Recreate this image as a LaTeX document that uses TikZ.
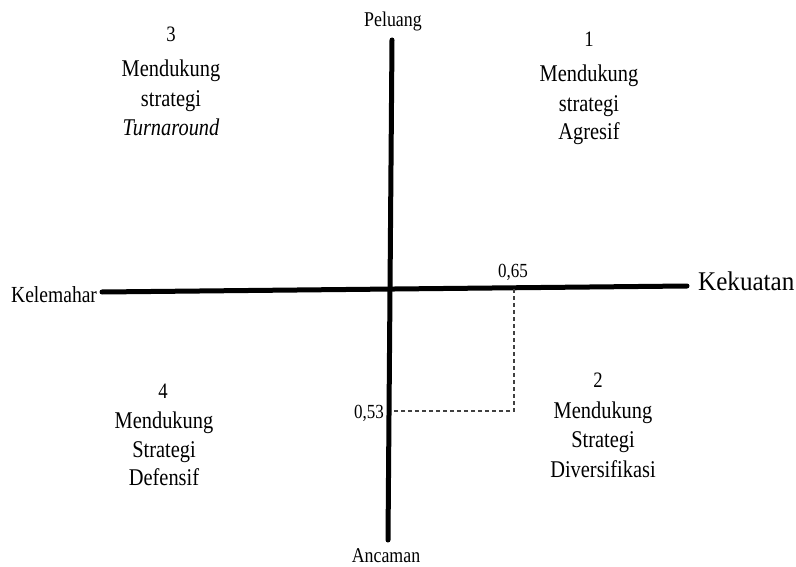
\documentclass[tikz,border=0pt]{standalone}
\usepackage{fontspec}
\setmainfont{Liberation Serif}[FakeStretch=0.85]
\newfontfamily\widefont{Liberation Serif}[FakeStretch=0.93]
\begin{document}
\begin{tikzpicture}[x=1pt,y=-1pt,
  lbl/.style={font=\fontsize{21}{25}\selectfont, inner sep=0pt, anchor=base},
  qtxt/.style={font=\fontsize{24}{30}\selectfont, inner sep=0pt, anchor=base},
  num/.style={font=\fontsize{22}{26}\selectfont, inner sep=0pt, anchor=base},
  axis/.style={line width=5pt, line cap=round},
  guide/.style={line width=1.1pt, black!75, dash pattern=on 4pt off 3pt}]
\fill[white] (0,0) rectangle (796,567);
\useasboundingbox (0,0) rectangle (796,567);
% axes
\coordinate (W) at (102,292);
\coordinate (E) at (687,286);
\coordinate (N) at (392,40);
\coordinate (S) at (388,540);
\draw[axis] (W) -- (E);
\draw[axis] (N) -- (S);
% guide lines
\coordinate (P65) at (514,289);
\coordinate (C) at (514,411);
\coordinate (P53) at (391,411);
\draw[guide] (P65) -- (C) -- (P53);
% axis labels
\node[lbl] (peluang) at (393,27) {Peluang};
\node[lbl] (ancaman) at (386,562) {Ancaman};
\node[lbl, anchor=base west, font=\fontsize{23}{27}\selectfont] (kelemahan) at (11,302) {Kelemahar};
\node[lbl, anchor=base west, font=\widefont\fontsize{27}{32}\selectfont] (kekuatan) at (698,290) {Kekuatan};
\node[lbl, font=\fontsize{20}{24}\selectfont] (v65) at (513,277) {0,65};
\node[lbl, anchor=base east, font=\fontsize{20}{24}\selectfont] (v53) at (384,418) {0,53};
% quadrant 3
\node[num] (n3) at (171,42) {3};
\node[qtxt] (q3a) at (171,77) {Mendukung};
\node[qtxt] (q3b) at (171,107) {strategi};
\node[qtxt] (q3c) at (171,136) {\itshape Turnaround};
% quadrant 1
\node[num] (n1) at (589,47) {1};
\node[qtxt] (q1a) at (589,82) {Mendukung};
\node[qtxt] (q1b) at (589,112) {strategi};
\node[qtxt] (q1c) at (589,140) {Agresif};
% quadrant 2
\node[num] (n2) at (598,387) {2};
\node[qtxt] (q2a) at (603,418) {Mendukung};
\node[qtxt] (q2b) at (603,447) {Strategi};
\node[qtxt] (q2c) at (603,477) {Diversifikasi};
% quadrant 4
\node[num] (n4) at (163,398) {4};
\node[qtxt] (q4a) at (164,428) {Mendukung};
\node[qtxt] (q4b) at (164,457) {Strategi};
\node[qtxt] (q4c) at (164,485) {Defensif};
\end{tikzpicture}
\end{document}
